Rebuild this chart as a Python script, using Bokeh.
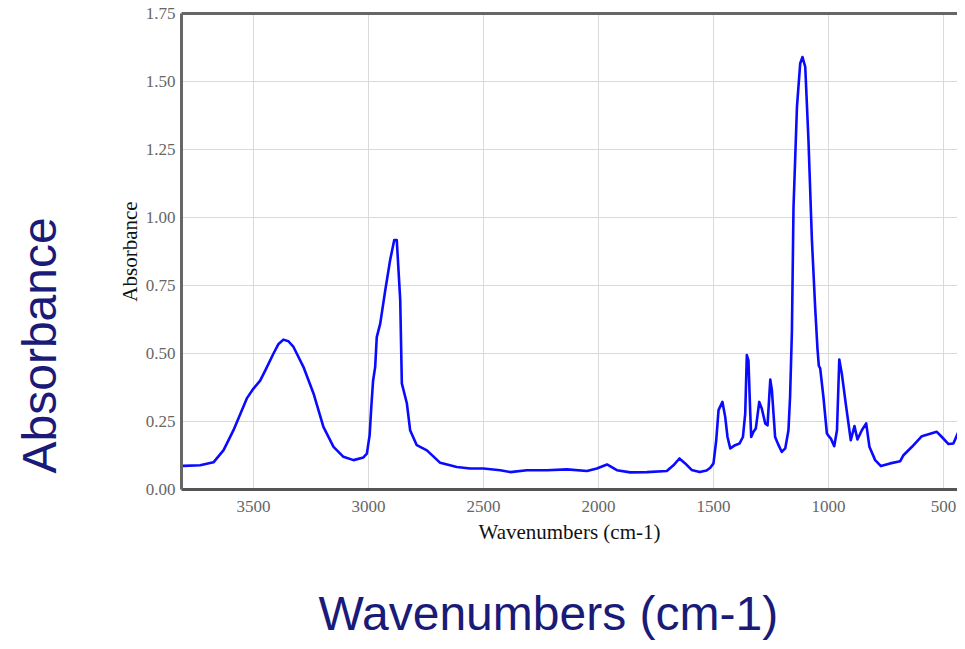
from bokeh.plotting import figure
from bokeh.models import Range1d, FixedTicker, LinearAxis, NumeralTickFormatter, Title
from bokeh.embed import file_html
from bokeh.resources import INLINE

wavenumber = [3813, 3804, 3732, 3674, 3630, 3587, 3529, 3500, 3471, 3448, 3413, 3391, 3370, 3348,
              3326, 3283, 3239, 3196, 3152, 3109, 3065, 3022, 3007, 2995, 2988, 2980, 2971, 2964,
              2949, 2927, 2906, 2888, 2877, 2862, 2855, 2833, 2819, 2790, 2746, 2688, 2616, 2558,
              2500, 2427, 2384, 2311, 2224, 2137, 2050, 2007, 1963, 1920, 1862, 1790, 1703, 1674,
              1648, 1623, 1595, 1560, 1530, 1514, 1500, 1488, 1478, 1461, 1449, 1439, 1427,
              1406, 1387, 1372, 1362, 1355, 1348, 1340, 1336, 1326, 1316, 1301, 1290, 1275,
              1265, 1253, 1246, 1232, 1217, 1203, 1188, 1174, 1167, 1159, 1152, 1137, 1123,
              1113, 1101, 1087, 1072, 1058, 1048, 1042, 1036, 1022, 1007, 996, 990, 975, 963,
              953, 942, 923, 903, 887, 874, 855, 836, 822, 797, 772, 732, 688, 674, 637, 594,
              565, 529, 507, 478, 457, 435, 410]
absorbance = [0.087, 0.087, 0.089, 0.100, 0.145, 0.218, 0.335, 0.371, 0.400, 0.439, 0.500, 0.535, 0.551, 0.545,
              0.524, 0.451, 0.353, 0.230, 0.157, 0.120, 0.108, 0.118, 0.132, 0.200, 0.300, 0.400, 0.450, 0.560,
              0.610, 0.733, 0.843, 0.917, 0.917, 0.696, 0.390, 0.316, 0.218, 0.163, 0.144, 0.098, 0.083, 0.077,
              0.077, 0.071, 0.064, 0.071, 0.071, 0.074, 0.068, 0.077, 0.092, 0.071, 0.063, 0.064, 0.068, 0.089,
              0.114, 0.096, 0.072, 0.064, 0.070, 0.080, 0.096, 0.181, 0.292, 0.322, 0.267, 0.193, 0.151,
              0.163, 0.169, 0.193, 0.279, 0.494, 0.475, 0.279, 0.193, 0.212, 0.224, 0.322, 0.298, 0.243,
              0.236, 0.404, 0.365, 0.193, 0.163, 0.138, 0.151, 0.218, 0.340, 0.580, 1.039, 1.407, 1.566,
              1.590, 1.554, 1.284, 0.917, 0.671, 0.520, 0.455, 0.445, 0.340, 0.206, 0.193, 0.188, 0.159, 0.218,
              0.478, 0.426, 0.304, 0.181, 0.233, 0.184, 0.218, 0.243, 0.157, 0.108, 0.086, 0.096, 0.104, 0.126,
              0.157, 0.196, 0.203, 0.212, 0.193, 0.167, 0.169, 0.212, 0.255]

x_ticks = [3500, 3000, 2500, 2000, 1500, 1000, 500]
y_ticks = [0.0, 0.25, 0.5, 0.75, 1.0, 1.25, 1.5, 1.75]

inner_x_title = "Wavenumbers (cm-1)"
inner_y_title = "Absorbance"
outer_x_title = "Wavenumbers (cm-1)"
outer_y_title = "Absorbance"

p = figure(width=957, height=641, output_backend="svg", toolbar_location=None,
           x_range=Range1d(3813, 439), y_range=Range1d(0, 1.75),
           min_border_left=181, min_border_right=0, min_border_top=13, min_border_bottom=152)
p.outline_line_color = None
p.background_fill_color = "white"
p.border_fill_color = "white"

p.line(wavenumber, absorbance, line_color="#0a0aff", line_width=2.6, line_join="round")

axis_col = "#666666"
for ax in (p.xaxis[0], p.yaxis[0]):
    ax.axis_line_color = axis_col
    ax.axis_line_width = 3
    ax.major_tick_line_color = None
    ax.minor_tick_line_color = None
    ax.major_tick_out = 0
    ax.minor_tick_out = 0
    ax.major_label_text_font = "Liberation Serif"
    ax.major_label_text_font_size = "17px"
    ax.major_label_text_color = "#666666"
    ax.axis_label_text_font = "Liberation Serif"
    ax.axis_label_text_font_size = "21px"
    ax.axis_label_text_font_style = "normal"
    ax.axis_label_text_color = "#111111"

p.xaxis[0].ticker = FixedTicker(ticks=x_ticks)
p.xaxis[0].major_label_standoff = 11
p.xaxis[0].axis_label = inner_x_title
p.xaxis[0].axis_label_standoff = 5
p.xaxis[0].axis_line_color = "#555555"

p.yaxis[0].ticker = FixedTicker(ticks=y_ticks)
p.yaxis[0].formatter = NumeralTickFormatter(format="0.00")
p.yaxis[0].major_label_standoff = 6
p.yaxis[0].axis_label = inner_y_title
p.yaxis[0].axis_label_standoff = 1

top = LinearAxis(ticker=FixedTicker(ticks=[]), axis_line_color=axis_col, axis_line_width=3,
                 major_tick_line_color=None, minor_tick_line_color=None,
                 major_tick_out=0, minor_tick_out=0,
                 major_label_text_font_size="0px", major_label_standoff=0)
p.add_layout(top, "above")

p.xgrid.ticker = FixedTicker(ticks=x_ticks)
p.ygrid.ticker = FixedTicker(ticks=y_ticks)
p.xgrid.grid_line_color = "#d9d9d9"
p.ygrid.grid_line_color = "#d9d9d9"

navy = "#1a1a78"
# spacers between the inner axes and the big outer titles
p.add_layout(Title(text=" ", text_font_size="1px", standoff=44), "left")
p.add_layout(Title(text=outer_y_title, align="left", vertical_align="top", offset=16, standoff=0,
                   text_font="Liberation Sans", text_font_size="48px", text_font_style="normal",
                   text_color=navy), "left")
p.add_layout(Title(text=" ", text_font_size="1px", standoff=41), "below")
p.add_layout(Title(text=outer_x_title, align="left", vertical_align="top", offset=137, standoff=-8,
                   text_font="Liberation Sans", text_font_size="48px", text_font_style="normal",
                   text_color=navy), "below")

open("out.html", "w").write(file_html(p, INLINE))
